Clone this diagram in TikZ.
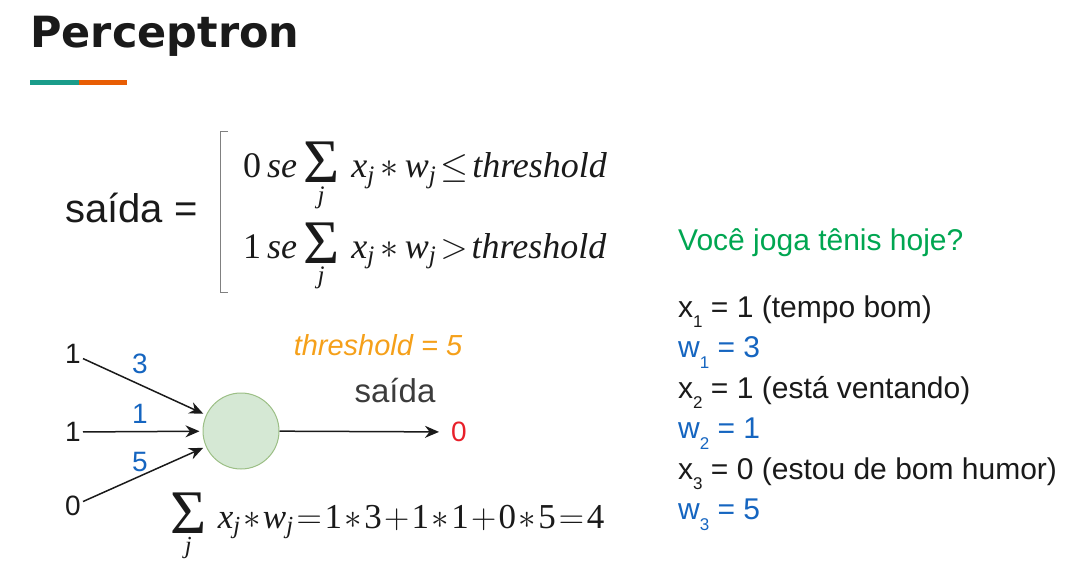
\documentclass[tikz,border=0pt]{standalone}
\usepackage{fix-cm}
\usepackage{amsmath}
\usepackage[no-math]{fontspec}
\setmainfont{Liberation Sans}
\newfontfamily\titlefont{DejaVu Sans}
\newfontfamily\formfont{Liberation Serif}
\usepackage{xcolor}
\definecolor{darkgray}{HTML}{1A1A1A}
\definecolor{barteal}{HTML}{1A9C8A}
\definecolor{barorange}{HTML}{E85D04}
\definecolor{weightblue}{HTML}{1565C0}
\definecolor{questgreen}{HTML}{00A651}
\definecolor{threshorange}{HTML}{F5A01A}
\definecolor{outred}{HTML}{E8202A}
\definecolor{cellfill}{HTML}{D5E8D4}
\definecolor{cellline}{HTML}{9CBF86}
\usepackage{tikz}
\usetikzlibrary{positioning,arrows.meta}
\newcommand{\setsize}[1]{\fontsize{#1}{#1}\selectfont}
\newcommand{\lowsub}[1]{\raisebox{-0.35em}{\setsize{17}#1}}
\newcommand{\fword}[1]{\text{\formfont\itshape #1}}
\newcommand{\fdigit}[1]{\text{\formfont #1}}
\newcommand{\xw}{\fword{x}_{\fword{j}}\ast\fword{w}_{\fword{j}}}
\newcommand{\bigsum}{\mathop{\raisebox{-5pt}{\formfont\setsize{62}Σ}}\limits_{\text{\raisebox{-6pt}{\formfont\itshape j}}}\,}
\newcommand{\tight}{\medmuskip=3mu\thickmuskip=2mu}

\begin{document}
\begin{tikzpicture}[x=1pt, y=-1pt, node distance=40.5pt,
		every node/.style={inner sep=2pt, text=darkgray},
		input/.style={font=\setsize{28}},
		weight/.style={font=\setsize{28}, text=weightblue},
		cell/.style={circle, minimum size=76pt, draw=cellline, fill=cellfill, line width=1pt},
		conn/.style={-{Stealth[length=14pt,width=12pt]}, line width=1.5pt, draw=darkgray},
		formula/.style={font=\setsize{36}, anchor=base west, inner sep=0pt},
		fact/.style={font=\setsize{30}, anchor=base west, inner sep=0pt}]
	\useasboundingbox (0,0) rectangle (1071,575);
	% title and bar
	\node (title) [anchor=base west, inner sep=0pt, font=\titlefont\bfseries\setsize{43}] at (30,48) {Perceptron};
	\fill[barteal] (30,80) rectangle (79,85);
	\fill[barorange] (79,80) rectangle (127,85);
	% rule
	\node (saida) [anchor=base west, inner sep=0pt, font=\setsize{40}] at (65,222) {saída =};
	\draw[gray, line width=1pt] (228,132) -| (220,292) -- (228,292);
	\node (cond0) [formula] at (243,178) {$\tight\fdigit{0}\,\fword{se}\bigsum\xw\le\fword{threshold}$};
	\node (cond1) [formula, below=80pt of cond0.base west, anchor=base west] {$\tight\fdigit{1}\,\fword{se}\bigsum\xw>\fword{threshold}$};
	% neuron
	\node (cell) [cell] at (241,431) {};
	\node (in1) [input, anchor=east] at (83,354) {1};
	\node (in2) [input, anchor=east] at (83,432) {1};
	\node (in3) [input, anchor=east] at (83,506) {0};
	\draw[conn, shorten >=3pt] (in1) -- (cell);
	\draw[conn, shorten >=3pt] (in2) -- (cell);
	\draw[conn, shorten >=3pt] (in3) -- (cell);
	\node (w1) [weight] at (140,364) {3};
	\node (w2) [weight] at (140,414) {1};
	\node (w3) [weight] at (140,462) {5};
	\node (out) [font=\setsize{28}, text=outred, anchor=west] at (449,432) {0};
	\draw[conn, shorten >=10pt] (cell) -- (out);
	\node (thresh) [font=\itshape\setsize{29}, text=threshorange] at (378,345) {threshold = 5};
	\node (outlabel) [font=\setsize{33}, text=darkgray!85] at (395,391) {saída};
	\node (total) [formula, font=\setsize{35}] at (170,528) {$\tight\medmuskip=1.2mu\thickmuskip=1.5mu\bigsum\xw=\fdigit{1}\ast\fdigit{3}+\fdigit{1}\ast\fdigit{1}+\fdigit{0}\ast\fdigit{5}=\fdigit{4}$};
	% example
	\node (quest) [fact, text=questgreen] at (678,250) {Você joga tênis hoje?};
	\node (x1) [fact, below=67pt of quest.base west, anchor=base west] {x\lowsub{1} = 1 (tempo bom)};
	\node (v1) [fact, text=weightblue, below=of x1.base west, anchor=base west] {w\lowsub{1} = 3};
	\node (x2) [fact, below=of v1.base west, anchor=base west] {x\lowsub{2} = 1 (está ventando)};
	\node (v2) [fact, text=weightblue, below=of x2.base west, anchor=base west] {w\lowsub{2} = 1};
	\node (x3) [fact, below=of v2.base west, anchor=base west] {x\lowsub{3} = 0 (estou de bom humor)};
	\node (v3) [fact, text=weightblue, below=of x3.base west, anchor=base west] {w\lowsub{3} = 5};
\end{tikzpicture}
\end{document}
